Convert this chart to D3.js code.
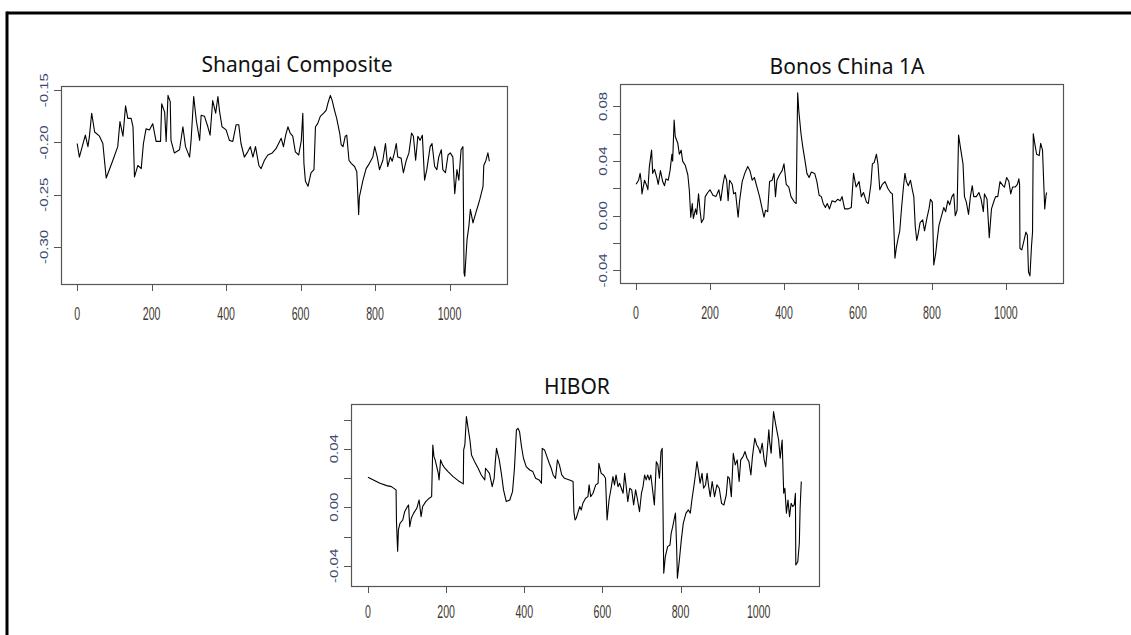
<!DOCTYPE html>
<html>
<head>
<meta charset="utf-8">
<script src="https://cdn.jsdelivr.net/npm/d3@7"></script>
<style>
  html, body { margin: 0; padding: 0; background: #fff; }
  svg { display: block; }
</style>
</head>
<body>
<svg id="chart" width="1131" height="635"></svg>
<script>
"use strict";

// x axis ticks shared by the three panels
const xTicks = [0, 200, 400, 600, 800, 1000];

// y ticks and their labels (R drops labels that would overlap)
const shangaiTicks = [-0.30, -0.25, -0.20, -0.15];
const shangaiLabels = ["-0.30", "-0.25", "-0.20", "-0.15"];
const bonosTicks = [-0.04, -0.02, 0.00, 0.02, 0.04, 0.06, 0.08];
const bonosLabels = ["-0.04", "", "0.00", "", "0.04", "", "0.08"];
const hiborTicks = [-0.04, -0.02, 0.00, 0.02, 0.04, 0.06];
const hiborLabels = ["-0.04", "", "0.00", "", "0.04", ""];

// series: [index, value]
const shangai = [
  [0,-0.201],[6,-0.214],[22,-0.193],[29,-0.204],[33,-0.194],[39,-0.172],[47,-0.190],[60,-0.194],
  [69,-0.201],[78,-0.234],[96,-0.217],[109,-0.204],[115,-0.180],[123,-0.194],[130,-0.165],[136,-0.177],
  [145,-0.177],[150,-0.185],[154,-0.233],[163,-0.222],[172,-0.225],[178,-0.201],[185,-0.187],[194,-0.188],
  [203,-0.182],[212,-0.199],[224,-0.199],[227,-0.163],[235,-0.171],[239,-0.199],[244,-0.155],[250,-0.161],
  [252,-0.198],[261,-0.210],[275,-0.207],[284,-0.185],[291,-0.204],[302,-0.214],[306,-0.198],[313,-0.156],
  [320,-0.179],[329,-0.198],[333,-0.174],[342,-0.175],[351,-0.185],[357,-0.193],[364,-0.160],[372,-0.172],
  [378,-0.156],[382,-0.169],[389,-0.185],[400,-0.188],[409,-0.198],[418,-0.199],[427,-0.183],[434,-0.183],
  [440,-0.201],[449,-0.214],[458,-0.209],[465,-0.204],[472,-0.214],[479,-0.204],[488,-0.222],[494,-0.225],
  [503,-0.217],[512,-0.212],[524,-0.210],[534,-0.206],[548,-0.196],[554,-0.204],[560,-0.193],[566,-0.185],
  [572,-0.191],[579,-0.194],[586,-0.209],[595,-0.212],[602,-0.198],[606,-0.172],[609,-0.220],[613,-0.237],
  [620,-0.242],[628,-0.229],[636,-0.226],[640,-0.185],[646,-0.182],[653,-0.175],[662,-0.172],[669,-0.169],
  [673,-0.163],[680,-0.155],[685,-0.160],[691,-0.169],[697,-0.177],[705,-0.191],[709,-0.202],[714,-0.204],
  [720,-0.194],[724,-0.193],[730,-0.217],[736,-0.220],[745,-0.223],[751,-0.228],[756,-0.269],[758,-0.252],
  [767,-0.237],[776,-0.225],[785,-0.220],[794,-0.214],[799,-0.204],[806,-0.214],[812,-0.226],[821,-0.217],
  [828,-0.201],[834,-0.223],[841,-0.214],[846,-0.218],[852,-0.210],[857,-0.201],[861,-0.214],[870,-0.215],
  [876,-0.229],[884,-0.217],[891,-0.210],[898,-0.191],[903,-0.194],[909,-0.217],[915,-0.194],[921,-0.198],
  [927,-0.193],[933,-0.236],[939,-0.226],[948,-0.204],[953,-0.201],[960,-0.223],[966,-0.226],[971,-0.214],
  [978,-0.207],[982,-0.226],[989,-0.229],[996,-0.212],[1002,-0.210],[1009,-0.214],[1014,-0.249],[1020,-0.226],
  [1025,-0.236],[1031,-0.207],[1036,-0.204],[1039,-0.325],[1041,-0.328],[1047,-0.293],[1052,-0.280],[1056,-0.264],
  [1063,-0.277],[1070,-0.268],[1076,-0.261],[1081,-0.255],[1090,-0.242],[1092,-0.222],[1098,-0.217],[1103,-0.210],
  [1107,-0.218]
];

const bonos = [
  [0,0.023],[7,0.026],[11,0.031],[14,0.025],[16,0.016],[23,0.026],[29,0.022],[32,0.019],
  [36,0.036],[42,0.048],[45,0.031],[50,0.034],[56,0.028],[60,0.023],[66,0.033],[72,0.025],
  [77,0.022],[81,0.027],[87,0.026],[92,0.033],[97,0.045],[99,0.040],[103,0.070],[106,0.058],
  [113,0.053],[117,0.045],[122,0.048],[126,0.040],[133,0.037],[140,0.030],[144,0.019],[148,-0.001],
  [152,0.009],[155,-0.002],[161,0.005],[164,0.001],[169,0.016],[173,0.004],[177,-0.005],[183,-0.002],
  [187,0.014],[194,0.017],[200,0.019],[208,0.015],[216,0.014],[224,0.019],[229,0.011],[235,0.023],
  [240,0.030],[245,0.026],[249,0.011],[253,0.026],[260,0.023],[264,0.016],[269,0.017],[276,-0.001],
  [280,0.011],[287,0.025],[294,0.031],[302,0.036],[308,0.033],[314,0.026],[320,0.028],[327,0.021],
  [334,0.014],[341,0.005],[346,-0.001],[350,0.004],[356,0.003],[361,0.025],[368,0.026],[373,0.031],
  [377,0.014],[381,0.026],[388,0.030],[395,0.033],[400,0.038],[406,0.023],[413,0.021],[419,0.014],
  [428,0.010],[433,0.009],[435,0.050],[437,0.090],[440,0.077],[446,0.060],[451,0.050],[457,0.040],
  [462,0.031],[468,0.028],[474,0.032],[483,0.031],[489,0.025],[495,0.015],[501,0.014],[506,0.009],
  [512,0.006],[517,0.009],[523,0.005],[530,0.011],[538,0.010],[545,0.012],[552,0.011],[557,0.014],
  [564,0.005],[573,0.005],[582,0.006],[588,0.031],[595,0.021],[603,0.025],[609,0.014],[615,0.017],
  [623,0.010],[628,0.009],[635,0.023],[639,0.038],[644,0.039],[650,0.045],[654,0.038],[659,0.019],
  [666,0.023],[673,0.025],[681,0.020],[688,0.017],[693,0.016],[697,-0.008],[700,-0.031],[704,-0.023],
  [709,-0.016],[713,-0.011],[718,0.006],[723,0.021],[727,0.031],[731,0.025],[736,0.022],[742,0.026],
  [747,0.019],[751,0.014],[755,-0.008],[759,-0.018],[763,-0.013],[768,-0.005],[775,-0.003],[780,-0.011],
  [787,-0.001],[792,0.005],[796,0.012],[801,0.010],[805,-0.036],[810,-0.028],[814,-0.018],[819,-0.007],
  [825,-0.001],[832,0.006],[837,0.003],[843,0.011],[848,0.008],[854,0.014],[859,0.016],[863,0.000],
  [868,0.004],[872,0.059],[877,0.050],[884,0.038],[888,0.014],[893,0.010],[899,0.001],[904,0.014],
  [909,0.022],[913,0.014],[920,0.014],[927,0.017],[933,0.012],[939,0.003],[942,0.016],[949,0.012],
  [955,-0.016],[961,0.005],[968,0.011],[972,0.014],[978,0.014],[984,0.025],[992,0.022],[996,0.021],
  [1002,0.028],[1008,0.025],[1013,0.016],[1018,0.021],[1025,0.021],[1031,0.023],[1035,0.027],[1037,0.023],
  [1038,-0.024],[1043,-0.025],[1049,-0.018],[1054,-0.012],[1058,-0.014],[1061,-0.041],[1065,-0.044],[1069,-0.023],
  [1072,-0.012],[1074,0.060],[1078,0.053],[1083,0.045],[1090,0.044],[1094,0.053],[1099,0.048],[1102,0.026],
  [1105,0.005],[1108,0.014],[1110,0.017]
];

const hibor = [
  [0,0.0205],[14,0.0187],[31,0.0164],[48,0.0148],[60,0.0141],[72,0.0119],[73,-0.0098],[76,-0.030],
  [78,-0.0155],[82,-0.011],[89,-0.0087],[94,-0.003],[101,0.0005],[104,0.0016],[107,-0.0132],[111,-0.0075],
  [117,-0.004],[125,-0.0007],[131,0.005],[136,-0.0064],[140,0.0005],[148,0.0039],[157,0.0062],[163,0.0073],
  [166,0.0426],[169,0.0346],[172,0.0324],[176,0.0278],[180,0.0232],[182,0.0187],[186,0.0324],[191,0.029],
  [197,0.0267],[205,0.0244],[218,0.021],[231,0.0182],[244,0.016],[245,0.0392],[248,0.0426],[252,0.062],
  [257,0.0529],[261,0.046],[265,0.0358],[273,0.0312],[282,0.0267],[290,0.0221],[299,0.0187],[301,0.0267],
  [311,0.0232],[318,0.0141],[323,0.0198],[326,0.0312],[329,0.0403],[336,0.0324],[342,0.0221],[347,0.0119],
  [354,0.0039],[363,0.005],[370,0.0107],[375,0.0267],[380,0.0529],[384,0.054],[388,0.0517],[393,0.0415],
  [398,0.0335],[405,0.0278],[414,0.0255],[422,0.0244],[429,0.0198],[438,0.0187],[444,0.0164],[446,0.0403],
  [452,0.0392],[458,0.0346],[464,0.0301],[469,0.0267],[474,0.0221],[480,0.0198],[485,0.0324],[490,0.029],
  [496,0.0221],[503,0.0198],[516,0.0187],[525,0.0176],[527,-0.003],[530,-0.0087],[533,-0.0075],[537,-0.004],
  [542,0.0005],[546,-0.0018],[550,0.0027],[557,0.0062],[563,0.0073],[566,0.0153],[570,0.0073],[576,0.0096],
  [583,0.0153],[589,0.0164],[591,0.0301],[597,0.0232],[603,0.0221],[608,0.0198],[612,-0.0087],[617,0.005],
  [623,0.0141],[627,0.021],[631,0.0153],[635,0.0221],[640,0.0141],[644,0.0164],[653,0.0096],[657,0.0232],
  [661,0.0141],[665,0.0039],[670,0.013],[675,0.0119],[680,0.0016],[685,0.0119],[690,0.005],[695,-0.003],
  [700,0.0096],[704,0.0141],[708,0.0221],[712,0.0187],[716,0.0221],[720,0.0187],[724,0.0221],[729,0.0107],
  [733,0.0016],[738,0.0312],[742,0.029],[746,0.0198],[750,0.0381],[753,0.0403],[755,0.0005],[757,-0.0451],
  [761,-0.0337],[767,-0.0269],[773,-0.0258],[776,-0.0178],[780,-0.0132],[785,-0.0064],[787,-0.004],[790,-0.0269],
  [792,-0.0485],[797,-0.036],[802,-0.0223],[807,-0.011],[814,-0.004],[820,-0.0018],[825,-0.004],[829,0.005],
  [834,0.0141],[838,0.0221],[842,0.0312],[846,0.0244],[850,0.0164],[855,0.0232],[859,0.013],[864,0.0153],
  [868,0.0232],[872,0.0141],[876,0.0073],[881,0.0176],[887,0.0073],[893,0.0153],[899,0.013],[905,0.0027],
  [911,0.0016],[917,0.0084],[921,0.021],[925,0.0198],[930,0.0073],[935,0.0369],[940,0.029],[945,0.0324],
  [950,0.0176],[954,0.0324],[960,0.0346],[965,0.0381],[970,0.0335],[975,0.0312],[980,0.0221],[984,0.0346],
  [990,0.0472],[995,0.0426],[1000,0.0403],[1004,0.0369],[1009,0.0438],[1014,0.0324],[1018,0.0278],[1022,0.0392],
  [1026,0.0529],[1028,0.0449],[1032,0.0369],[1034,0.0472],[1038,0.0654],[1043,0.0574],[1047,0.0517],[1051,0.046],
  [1055,0.0335],[1060,0.046],[1064,0.0096],[1067,0.013],[1071,-0.004],[1075,0.005],[1079,-0.0064],[1083,0.0027],
  [1087,0.0005],[1091,0.0016],[1094,0.0096],[1095,-0.0394],[1100,-0.0372],[1104,-0.0246],[1106,-0.0007],[1109,0.0176]
];

// R-style x limits: 1..n widened by 4% each side
const nObs = 1110;
const xPad = 0.04 * (nObs - 1);
const xDomain = [1 - xPad, nObs + xPad];

const panels = [
  { title: "Shangai Composite", data: shangai, ticks: shangaiTicks, labels: shangaiLabels,
    yDomain: [-0.3354, -0.146], left: 61, right: 507, top: 86, bottom: 284,
    titleX: 297, titleY: 72, xLabY: 313 },
  { title: "Bonos China 1A", data: bonos, ticks: bonosTicks, labels: bonosLabels,
    yDomain: [-0.0492, 0.0964], left: 620, right: 1063, top: 84, bottom: 283,
    titleX: 847, titleY: 74, xLabY: 312 },
  { title: "HIBOR", data: hibor, ticks: hiborTicks, labels: hiborLabels,
    yDomain: [-0.0538, 0.0706], left: 351, right: 819, top: 404, bottom: 586,
    titleX: 577, titleY: 394, xLabY: 611 }
];

// the original image was stretched vertically, so tick text is narrow and tall
const labelFont = "'Liberation Sans', Arial, sans-serif";
const xLab = { size: 12.5, sx: 0.85, sy: 1.5 };
const yLab = { size: 12, sx: 0.95, sy: 1.25 };
const tickLen = 7;

const svg = d3.select("#chart");

// outer frame: only top and left edges visible
svg.append("line").attr("x1", 7).attr("x2", 1131).attr("y1", 13).attr("y2", 13)
  .attr("stroke", "#000").attr("stroke-width", 3);
svg.append("line").attr("x1", 7).attr("x2", 7).attr("y1", 11.5).attr("y2", 635)
  .attr("stroke", "#000").attr("stroke-width", 3);

function drawPanel(p) {
  const x = d3.scaleLinear().domain(xDomain).range([p.left, p.right]);
  const y = d3.scaleLinear().domain(p.yDomain).range([p.bottom, p.top]);
  const g = svg.append("g");

  g.append("text")
    .attr("x", p.titleX).attr("y", p.titleY)
    .attr("text-anchor", "middle")
    .attr("font-family", "'Noto Sans', 'Open Sans', sans-serif")
    .attr("font-size", 21)
    .attr("fill", "#111")
    .text(p.title);

  // series
  const line = d3.line().x(d => x(d[0])).y(d => y(d[1]));
  g.append("path")
    .datum(p.data)
    .attr("fill", "none")
    .attr("stroke", "#000")
    .attr("stroke-width", 1.1)
    .attr("stroke-linejoin", "round")
    .attr("d", line);

  // box
  g.append("rect")
    .attr("x", p.left + 0.5).attr("y", p.top + 0.5)
    .attr("width", p.right - p.left).attr("height", p.bottom - p.top)
    .attr("fill", "none").attr("stroke", "#555").attr("stroke-width", 1.2);

  // x ticks
  g.selectAll("line.xt").data(xTicks).enter().append("line")
    .attr("class", "xt")
    .attr("x1", d => Math.round(x(d)) + 0.5).attr("x2", d => Math.round(x(d)) + 0.5)
    .attr("y1", p.bottom).attr("y2", p.bottom + tickLen)
    .attr("stroke", "#555");
  g.selectAll("g.xl").data(xTicks).enter().append("g")
    .attr("class", "xl")
    .attr("transform", d => `translate(${x(d)},${p.xLabY}) scale(${xLab.sx},${xLab.sy})`)
    .append("text")
      .attr("text-anchor", "middle").attr("dy", "0.35em")
      .attr("font-family", labelFont).attr("font-size", xLab.size)
      .attr("fill", "#3e3630")
      .text(d => d3.format("d")(d));

  // y ticks
  g.selectAll("line.yt").data(p.ticks).enter().append("line")
    .attr("class", "yt")
    .attr("x1", p.left - tickLen).attr("x2", p.left)
    .attr("y1", d => Math.round(y(d)) + 0.5).attr("y2", d => Math.round(y(d)) + 0.5)
    .attr("stroke", "#555");
  g.selectAll("g.yl").data(p.ticks.map((t, i) => [t, p.labels[i]]).filter(d => d[1])).enter().append("g")
    .attr("class", "yl")
    .attr("transform", d => `translate(${p.left - 17},${y(d[0])}) scale(${yLab.sx},${yLab.sy}) rotate(-90)`)
    .append("text")
      .attr("text-anchor", "middle").attr("dy", "0.35em")
      .attr("font-family", labelFont).attr("font-size", yLab.size)
      .attr("fill", "#3a4a6e")
      .text(d => d[1]);
}

panels.forEach(drawPanel);
</script>
</body>
</html>
